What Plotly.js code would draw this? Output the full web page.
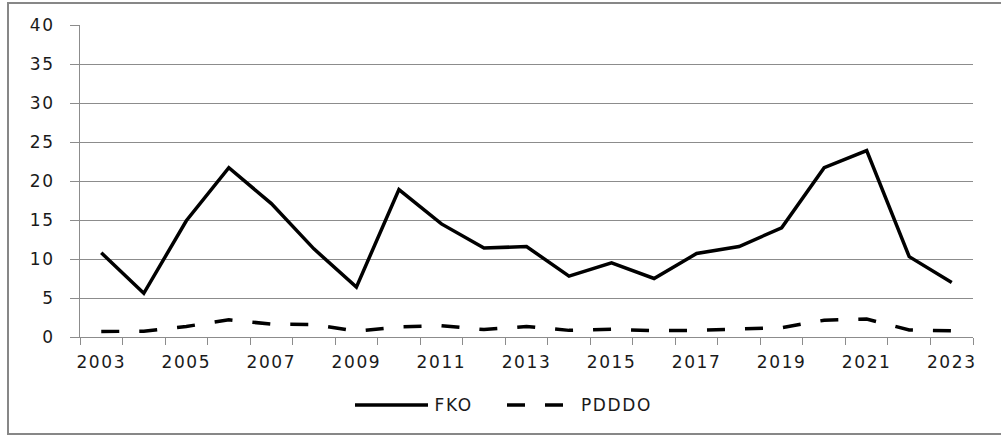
<!DOCTYPE html>
<html>
<head>
<meta charset="utf-8">
<script src="https://cdn.plot.ly/plotly-3.0.1.min.js"></script>
<style>
  html, body { margin: 0; padding: 0; background: #fff; }
  #chart { width: 1001px; height: 436px; }
  #chart .xtick text, #chart .ytick text, #chart .annotation-text { letter-spacing: 1.6px; }
</style>
</head>
<body>
<div id="chart"></div>
<script>
const years = [2003,2004,2005,2006,2007,2008,2009,2010,2011,2012,2013,2014,2015,2016,2017,2018,2019,2020,2021,2022,2023];
const fko   = [10.8,5.6,14.9,21.7,17.1,11.3,6.4,18.9,14.5,11.4,11.6,7.8,9.5,7.5,10.7,11.6,14.0,21.7,23.9,10.3,7.0];
const pdddo = [0.7,0.75,1.35,2.2,1.65,1.6,0.75,1.3,1.45,0.95,1.35,0.85,1.0,0.8,0.85,1.05,1.2,2.15,2.3,0.9,0.8];
const xTickLabels = ['2003','2005','2007','2009','2011','2013','2015','2017','2019','2021','2023'];
const xTickVals = xTickLabels.map(Number);
const seriesNames = ['FKO', 'PDDDO'];

const fontFamily = '"DejaVu Sans", Verdana, sans-serif';
const gridColor = '#8c8c8c';
const textColor = '#1a1a1a';
const lineWidth = 3.5;
const dashStyle = '18px,20px';

// plot area in pixels (for the paper-coordinate legend and frame)
const PL = 80, PW = 893, PB = 337, PH = 312;
const px = v => (v - PL) / PW;
const py = v => (PB - v) / PH;

const traces = [
  {
    x: years, y: fko, name: seriesNames[0], type: 'scatter', mode: 'lines',
    line: { color: '#000000', width: lineWidth }
  },
  {
    x: years, y: pdddo, name: seriesNames[1], type: 'scatter', mode: 'lines',
    line: { color: '#000000', width: lineWidth, dash: dashStyle }
  }
];

const legendY = 405;
const legendFont = { family: fontFamily, size: 17, color: textColor };

const layout = {
  width: 1001, height: 436,
  margin: { l: PL, r: 1001 - PL - PW, t: PB - PH, b: 436 - PB, autoexpand: false },
  paper_bgcolor: '#ffffff', plot_bgcolor: '#ffffff',
  font: { family: fontFamily, size: 17, color: textColor },
  showlegend: false,
  xaxis: {
    type: 'linear', range: [2002.5, 2023.5],
    tickmode: 'array', tickvals: xTickVals, ticktext: xTickLabels,
    ticks: '', showgrid: false, zeroline: false,
    showline: true, linecolor: gridColor, linewidth: 1,
    tickfont: { family: fontFamily, size: 17, color: textColor },
    ticklabelstandoff: 10,
    minor: { tick0: 2002.5, dtick: 1, ticks: 'outside', ticklen: 7, tickcolor: gridColor, tickwidth: 1, showgrid: false },
    fixedrange: true
  },
  yaxis: {
    range: [0, 40], tickmode: 'linear', tick0: 0, dtick: 5,
    ticks: 'outside', ticklen: 9, tickcolor: gridColor, tickwidth: 1,
    showgrid: true, gridcolor: gridColor, gridwidth: 1,
    zeroline: false, showline: true, linecolor: gridColor, linewidth: 1,
    tickfont: { family: fontFamily, size: 17, color: textColor },
    ticklabelstandoff: 12,
    fixedrange: true
  },
  shapes: [
    {
      type: 'rect', xref: 'paper', yref: 'paper',
      x0: px(8), x1: px(1006), y0: py(434), y1: py(3),
      line: { color: '#878787', width: 2 }, fillcolor: 'rgba(0,0,0,0)', layer: 'below'
    },
    {
      type: 'line', xref: 'paper', yref: 'paper',
      x0: px(355), x1: px(428), y0: py(legendY), y1: py(legendY),
      line: { color: '#000000', width: lineWidth }
    },
    {
      type: 'line', xref: 'paper', yref: 'paper',
      x0: px(507), x1: px(565), y0: py(legendY), y1: py(legendY),
      line: { color: '#000000', width: lineWidth, dash: dashStyle }
    }
  ],
  annotations: [
    {
      xref: 'paper', yref: 'paper', x: px(435), y: py(legendY),
      xanchor: 'left', yanchor: 'middle', showarrow: false,
      text: seriesNames[0], font: legendFont
    },
    {
      xref: 'paper', yref: 'paper', x: px(583), y: py(legendY),
      xanchor: 'left', yanchor: 'middle', showarrow: false,
      text: seriesNames[1], font: legendFont
    }
  ]
};

Plotly.newPlot('chart', traces, layout, { displayModeBar: false, staticPlot: true });
</script>
</body>
</html>
